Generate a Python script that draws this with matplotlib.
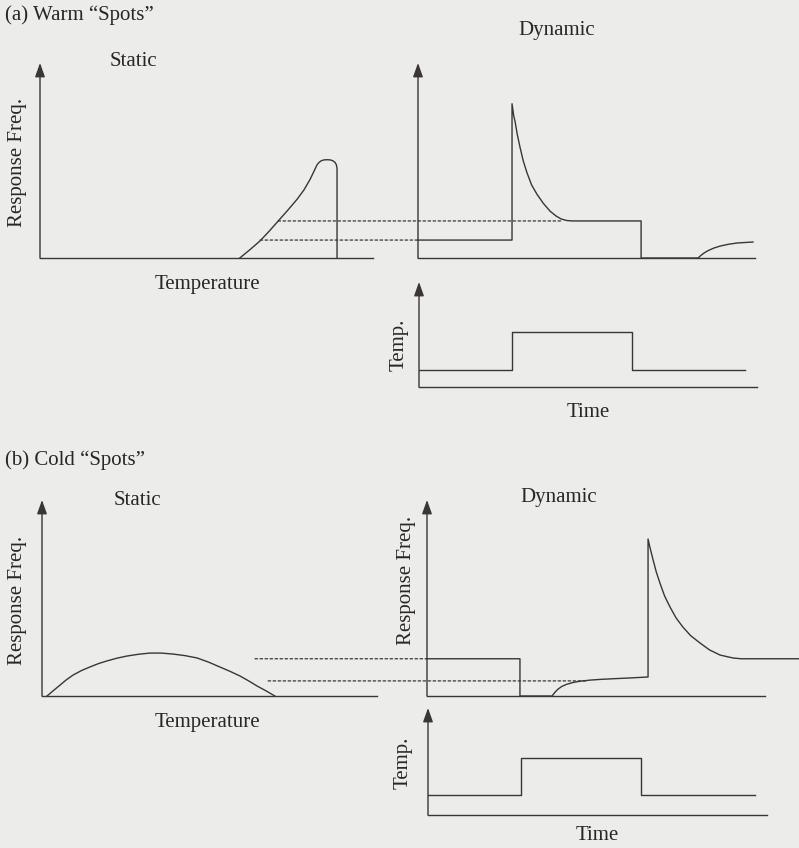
import matplotlib.pyplot as plt
from matplotlib.patches import ConnectionPatch

# ---- data (schematic values, arbitrary units 0..10) ----
# (a) warm spots
warm_static_temp = [6.0, 6.3, 6.61, 6.88, 7.15, 7.44, 7.72, 7.93, 8.11, 8.22, 8.32, 8.38,
                    8.44, 8.52, 8.62, 8.72, 8.8, 8.86, 8.9, 8.92, 8.92]
warm_static_resp = [0, 0.42, 0.88, 1.37, 1.89, 2.45, 3.01, 3.5, 4.03, 4.42, 4.78, 4.9,
                    4.98, 5.03, 5.04, 5.03, 4.98, 4.9, 4.78, 4.6, 0]

warm_dyn_time = [0, 2.79, 2.79, 2.84, 2.88, 2.95, 3.03, 3.12, 3.23, 3.37, 3.53, 3.72,
                 3.92, 4.1, 4.25, 4.42, 4.6, 6.62, 6.62,
                 8.31, 8.4, 8.5, 8.62, 8.78, 8.96, 9.2, 9.47, 9.94]
warm_dyn_resp = [0.92, 0.92, 7.91, 7.3, 7.0, 6.3, 5.66, 5.0, 4.39, 3.75, 3.27, 2.8,
                 2.4, 2.15, 2.0, 1.92, 1.9, 1.9, 0,
                 0, 0.14, 0.27, 0.39, 0.51, 0.61, 0.7, 0.77, 0.82]

warm_temp_time = [0, 2.75, 6.30, 9.64]
warm_temp_level = [1.62, 5.24, 1.62, 1.62]

warm_levels = [1.9, 0.92]
warm_static_from = [7.15, 6.61]
warm_dyn_to = [4.3, 0]

# (b) cold spots
cold_static_temp = [0.15, 0.35, 0.54, 0.73, 0.93, 1.18, 1.43, 1.68, 1.94, 2.24, 2.54, 2.88,
                    3.22, 3.56, 3.91, 4.27, 4.63, 4.97, 5.31, 5.61, 5.91, 6.17, 6.42, 6.68, 6.95]
cold_static_resp = [0, 0.29, 0.56, 0.83, 1.07, 1.3, 1.48, 1.65, 1.79, 1.93, 2.04, 2.13,
                    2.19, 2.19, 2.14, 2.06, 1.94, 1.73, 1.48, 1.26, 1.02, 0.77, 0.51, 0.27, 0]

cold_dyn_time = [0, 2.75, 2.75, 3.70, 3.78, 3.87, 3.98, 4.12, 4.32, 4.55, 4.82, 5.15,
                 5.5, 6.0, 6.54, 6.54, 6.6, 6.69, 6.78, 6.89, 7.03, 7.19, 7.37, 7.57,
                 7.8, 8.08, 8.36, 8.67, 9.05, 9.3, 11.0]
cold_dyn_resp = [1.9, 1.9, 0, 0, 0.18, 0.34, 0.48, 0.59, 0.69, 0.76, 0.81, 0.85,
                 0.88, 0.92, 0.97, 8.01, 7.55, 6.94, 6.35, 5.77, 5.1, 4.54, 3.98, 3.52,
                 3.08, 2.70, 2.35, 2.09, 1.94, 1.9, 1.9]

cold_temp_time = [0, 2.74, 6.28, 9.65]
cold_temp_level = [1.87, 5.33, 1.87, 1.87]

cold_levels = [1.9, 0.77]
cold_static_from = [6.36, 6.75]
cold_dyn_to = [0, 4.73]

# ---- style ----
W, H = 799, 848
BG = '#ececea'
INK = '#3a3536'
LW = 1.0
plt.rcParams['font.family'] = ['Liberation Serif', 'DejaVu Serif']
plt.rcParams['font.size'] = 15

fig = plt.figure(figsize=(W / 100, H / 100), dpi=100, facecolor=BG)


def px_axes(x0, y0, x1, y1):
    ax = fig.add_axes([x0 / W, 1 - y1 / H, (x1 - x0) / W, (y1 - y0) / H])
    ax.set_xlim(0, 10)
    ax.set_ylim(0, 10)
    ax.axis('off')
    # baseline + arrowed vertical axis
    ax.plot([0, 10], [0, 0], color=INK, lw=LW, clip_on=False)
    ax.annotate('', xy=(0, 10), xytext=(0, 0),
                arrowprops=dict(arrowstyle='-|>,head_length=0.7,head_width=0.25',
                                mutation_scale=12, color=INK, lw=LW,
                                shrinkA=0, shrinkB=0))
    return ax


def ptext(x, y, s, ha='center', **kw):
    fig.text(x / W, 1 - y / H, s, color='#2a2526', ha=ha, va='center', **kw)


def dotted(ax_a, xa, ax_b, xb, y):
    con = ConnectionPatch(xyA=(xa, y), coordsA=ax_a.transData,
                          xyB=(xb, y), coordsB=ax_b.transData,
                          color=INK, lw=0.9, linestyle=(0, (2, 2)))
    fig.add_artist(con)


# ---- (a) warm ----
ax1 = px_axes(40, 63, 373, 258)
ax1.plot(warm_static_temp, warm_static_resp, color=INK, lw=LW)

ax2 = px_axes(418, 63, 755, 258)
ax2.plot(warm_dyn_time, warm_dyn_resp, color=INK, lw=LW, clip_on=False)

ax3 = px_axes(419, 282, 757, 387)
ax3.step(warm_temp_time, warm_temp_level, where='post', color=INK, lw=LW)

for lvl, xs, xe in zip(warm_levels, warm_static_from, warm_dyn_to):
    dotted(ax1, xs, ax2, xe, lvl)

ptext(5, 15, '(a) Warm \u201cSpots\u201d', ha='left')
ptext(133, 62, 'Static')
ptext(18, 162, 'Response Freq.', rotation=90)
ptext(207, 285, 'Temperature')
ptext(557, 30, 'Dynamic')
ptext(399, 345, 'Temp.', rotation=90)
ptext(588, 412, 'Time')

# ---- (b) cold ----
ax4 = px_axes(42, 500, 377, 696)
ax4.plot(cold_static_temp, cold_static_resp, color=INK, lw=LW)

ax5 = px_axes(427, 500, 765, 696)
ax5.plot(cold_dyn_time, cold_dyn_resp, color=INK, lw=LW, clip_on=False)

ax6 = px_axes(428, 708, 767, 815)
ax6.step(cold_temp_time, cold_temp_level, where='post', color=INK, lw=LW)

for lvl, xs, xe in zip(cold_levels, cold_static_from, cold_dyn_to):
    dotted(ax4, xs, ax5, xe, lvl)

ptext(5, 460, '(b) Cold \u201cSpots\u201d', ha='left')
ptext(137, 500, 'Static')
ptext(18, 600, 'Response Freq.', rotation=90)
ptext(207, 722, 'Temperature')
ptext(559, 497, 'Dynamic')
ptext(406, 580, 'Response Freq.', rotation=90)
ptext(403, 763, 'Temp.', rotation=90)
ptext(597, 835, 'Time')

fig.savefig('out.png', dpi=100, facecolor=BG)
